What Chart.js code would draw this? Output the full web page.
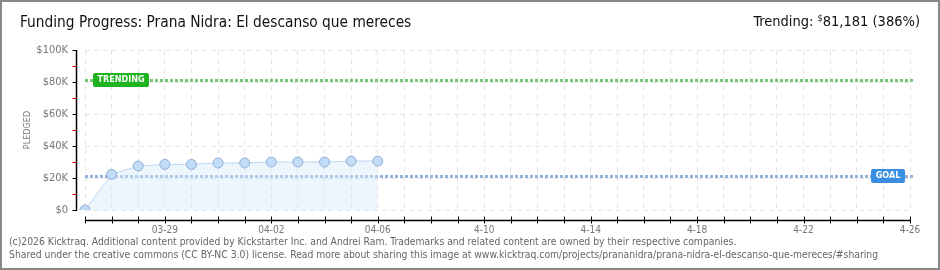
<!DOCTYPE html>
<html>
<head>
<meta charset="utf-8">
<script src="https://cdn.jsdelivr.net/npm/chart.js@4.4.0/dist/chart.umd.min.js"></script>
<style>
  html, body { margin: 0; padding: 0; background: #fff; }
  #wrap { position: relative; width: 940px; height: 270px; box-sizing: border-box; border: 2px solid #888; overflow: hidden; }
  #chart { position: absolute; left: -2px; top: -2px; }
  .title { position: absolute; left: 18px; top: 11px; font: 15.3px "DejaVu Sans Condensed", sans-serif; color: #111; white-space: nowrap; }
  .trend { position: absolute; right: 18px; top: 11px; font: 14.5px "DejaVu Sans Condensed", sans-serif; color: #111; white-space: nowrap; }
  .trend sup { font-size: 9px; vertical-align: 5px; }
  .foot { position: absolute; left: 7px; font: 10.3px "DejaVu Sans Condensed", sans-serif; color: #666; white-space: nowrap; }
</style>
</head>
<body>
<div id="wrap">
  <canvas id="chart" width="940" height="270"></canvas>
  <div class="title">Funding Progress: Prana Nidra: El descanso que mereces</div>
  <div class="trend">Trending: <sup>$</sup>81,181 (386%)</div>
  <div class="foot" style="top:233px">(c)2026 Kicktraq. Additional content provided by Kickstarter Inc. and Andrei Ram. Trademarks and related content are owned by their respective companies.</div>
  <div class="foot" style="top:246px">Shared under the creative commons (CC BY-NC 3.0) license. Read more about sharing this image at www.kicktraq.com/projects/prananidra/prana-nidra-el-descanso-que-mereces/#sharing</div>
</div>
<script>
// campaign days shown on the x axis
var dates = ['03-26', '03-27', '03-28', '03-29', '03-30', '03-31', '04-01', '04-02',
             '04-03', '04-04', '04-05', '04-06', '04-07', '04-08', '04-09', '04-10',
             '04-11', '04-12', '04-13', '04-14', '04-15', '04-16', '04-17', '04-18',
             '04-19', '04-20', '04-21', '04-22', '04-23', '04-24', '04-25', '04-26'];
// pledged total per day (so far)
var pledged = [0, 22300, 27500, 28500, 28500, 29400, 29400, 30000, 30000, 30000, 30600, 30600];
var tickDates = ['03-29', '04-02', '04-06', '04-10', '04-14', '04-18', '04-22', '04-26'];
var tickLabels = ['03-29', '04-02', '04-06', '4-10', '4-14', '4-18', '4-22', '4-26'];
var yTicks = [0, 10000, 20000, 30000, 40000, 50000, 60000, 70000, 80000, 90000, 100000];
var goal = 21031;
var trending = 81181;

var pixelFont = '"DejaVu Sans Condensed", sans-serif';

// goal / trending lines, axis lines and tick marks
var overlay = {
    id: 'overlay',
    beforeDatasetsDraw: function(chart) {
        var c = chart.ctx, x = chart.scales.x, y = chart.scales.y;
        var left = x.getPixelForValue(0), right = x.getPixelForValue(dates.length - 1);
        function refLine(v, col) {
            var py = Math.round(y.getPixelForValue(v)) + 0.5;
            c.save();
            c.strokeStyle = col;
            c.lineWidth = 3;
            c.setLineDash([3, 2]);
            c.beginPath();
            c.moveTo(left, py);
            c.lineTo(right + 3, py);
            c.stroke();
            c.restore();
        }
        refLine(trending, '#78c678');
        refLine(goal, '#93b3db');
    },
    afterDraw: function(chart) {
        var c = chart.ctx, x = chart.scales.x, y = chart.scales.y;
        c.save();
        // y axis
        var ax = 76.5;
        c.strokeStyle = '#000';
        c.lineWidth = 1.5;
        c.beginPath();
        c.moveTo(ax, y.getPixelForValue(100000));
        c.lineTo(ax, y.getPixelForValue(0) + 1);
        c.stroke();
        yTicks.forEach(function(v) {
            var py = Math.round(y.getPixelForValue(v)) + 0.5;
            c.strokeStyle = (v % 20000 === 0) ? '#000' : '#e00';
            c.lineWidth = 1;
            c.beginPath();
            c.moveTo(ax - 4, py);
            c.lineTo(ax, py);
            c.stroke();
        });
        // x axis
        var by = 220.5;
        c.strokeStyle = '#000';
        c.lineWidth = 1.5;
        c.beginPath();
        c.moveTo(x.getPixelForValue(0), by);
        c.lineTo(x.getPixelForValue(dates.length - 1), by);
        c.stroke();
        c.lineWidth = 1;
        dates.forEach(function(d, i) {
            var px = Math.round(x.getPixelForValue(i)) + 0.5;
            c.beginPath();
            c.moveTo(px, by - 4);
            c.lineTo(px, by + 3);
            c.stroke();
        });
        // labels on the reference lines
        function tag(text, bx, v, w, col) {
            var py = Math.round(y.getPixelForValue(v));
            c.fillStyle = col;
            c.beginPath();
            c.roundRect(bx, py - 7, w, 14, 2);
            c.fill();
            c.fillStyle = '#fff';
            c.font = 'bold 9px ' + pixelFont;
            c.textBaseline = 'middle';
            c.textAlign = 'center';
            c.fillText(text, bx + w / 2, py);
        }
        tag('TRENDING', 93, trending, 56, '#1fb31f');
        tag('GOAL', 871, goal, 34, '#3a8ee2');
        c.restore();
    }
};

var ctx = document.getElementById('chart').getContext('2d');
new Chart(ctx, {
    type: 'line',
    data: {
        labels: dates,
        datasets: [{
            data: pledged,
            borderColor: '#bcd6f2',
            borderWidth: 1,
            backgroundColor: 'rgba(215,232,250,0.45)',
            fill: 'origin',
            tension: 0,
            pointRadius: 5,
            pointBackgroundColor: '#c2dbf6',
            pointBorderColor: '#8faed6',
            pointBorderWidth: 1
        }]
    },
    options: {
        responsive: false,
        animation: false,
        layout: { padding: { left: 0, right: 30, top: 50, bottom: 30 } },
        plugins: { legend: { display: false }, tooltip: { enabled: false } },
        scales: {
            x: {
                type: 'category',
                offset: false,
                border: { display: false, dash: [5, 4] },
                grid: { color: '#e4e4e4', drawTicks: false },
                ticks: {
                    autoSkip: false,
                    maxRotation: 0,
                    padding: 14,
                    color: '#777',
                    font: { family: pixelFont, size: 10 },
                    callback: function(v, i) {
                        var k = tickDates.indexOf(dates[i]);
                        return k >= 0 ? tickLabels[k] : '';
                    }
                },
                afterFit: function(s) { s.height = 30; }
            },
            y: {
                min: 0,
                max: 100000,
                border: { display: false, dash: [5, 4] },
                afterBuildTicks: function(s) {
                    s.ticks = yTicks.map(function(v) { return { value: v }; });
                },
                grid: {
                    drawTicks: false,
                    color: function(c) {
                        return (c.tick && c.tick.value % 20000 === 0) ? '#e4e4e4' : 'rgba(0,0,0,0)';
                    }
                },
                ticks: {
                    padding: 17,
                    color: '#777',
                    font: { family: pixelFont, size: 11 },
                    callback: function(v) {
                        if (v % 20000 !== 0) return '';
                        return '$' + (v === 0 ? '0' : (v / 1000) + 'K');
                    }
                },
                title: {
                    display: true,
                    text: 'PLEDGED',
                    color: '#777',
                    font: { family: pixelFont, size: 9 },
                    padding: { top: 22, bottom: 0 }
                },
                afterFit: function(s) { s.width = 85; }
            }
        }
    },
    plugins: [overlay]
});
</script>
</body>
</html>
